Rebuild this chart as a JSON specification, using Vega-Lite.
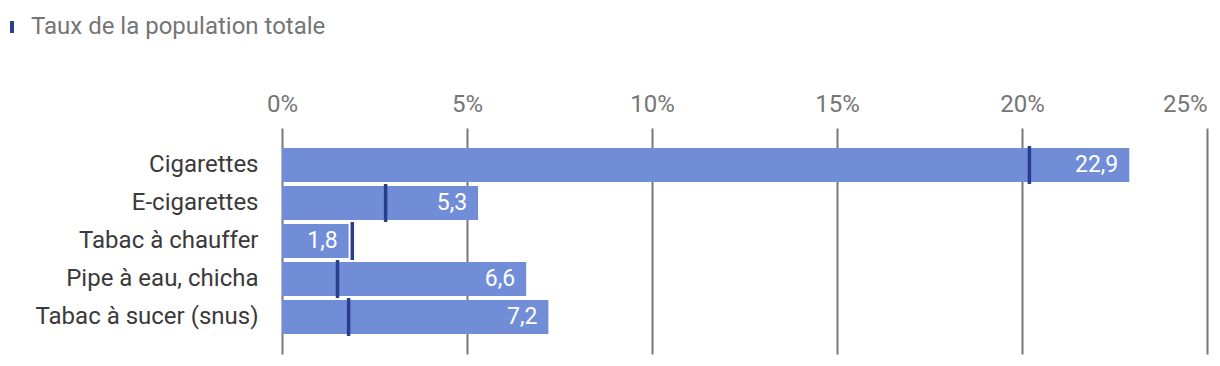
{
  "$schema": "https://vega.github.io/schema/vega-lite/v6.json",
  "autosize": {"type": "none"},
  "padding": {"left": 282, "top": 128, "right": 13, "bottom": 12},
  "width": 925,
  "height": 226,
  "background": "white",
  "config": {
    "font": "Roboto",
    "view": {"stroke": null},
    "locale": {"number": {"decimal": ",", "thousands": " ", "grouping": [3], "currency": ["", " €"]}}
  },
  "data": {
    "values": [
      {"produit": "Cigarettes", "taux": 22.9, "repere": 20.2},
      {"produit": "E-cigarettes", "taux": 5.3, "repere": 2.8},
      {"produit": "Tabac à chauffer", "taux": 1.8, "repere": 1.9},
      {"produit": "Pipe à eau, chicha", "taux": 6.6, "repere": 1.5},
      {"produit": "Tabac à sucer (snus)", "taux": 7.2, "repere": 1.8}
    ]
  },
  "encoding": {
    "y": {
      "field": "produit",
      "type": "nominal",
      "sort": null,
      "scale": {"paddingInner": 0.105, "paddingOuter": 0.526},
      "axis": {
        "title": null,
        "ticks": false,
        "domain": false,
        "labelFontSize": 24,
        "labelColor": "#3a3a3a",
        "labelPadding": 24,
        "labelLimit": 400
      }
    }
  },
  "layer": [
    {
      "mark": {"type": "bar", "color": "#728dd7"},
      "encoding": {
        "x": {
          "field": "taux",
          "type": "quantitative",
          "scale": {"domain": [0, 25], "nice": false},
          "axis": {
            "orient": "top",
            "title": null,
            "values": [0, 5, 10, 15, 20, 25],
            "labelExpr": "datum.value + '%'",
            "labelFontSize": 24,
            "labelColor": "#757575",
            "labelPadding": 12,
            "labelFlush": false,
            "labelAlign": {"condition": {"test": "datum.value == 25", "value": "right"}, "value": "center"},
            "ticks": false,
            "domain": false,
            "grid": true,
            "gridColor": "#777777",
            "gridWidth": 2,
            "zindex": 0
          }
        }
      }
    },
    {
      "mark": {"type": "text", "align": "right", "dx": -11, "fontSize": 23, "color": "white", "baseline": "middle"},
      "encoding": {
        "x": {"field": "taux", "type": "quantitative"},
        "text": {"field": "taux", "type": "quantitative", "format": ".1f"}
      }
    },
    {
      "mark": {"type": "tick", "thickness": 3.5, "size": 38, "orient": "vertical", "opacity": 1},
      "encoding": {
        "x": {"field": "repere", "type": "quantitative"},
        "color": {
          "datum": "Taux de la population totale",
          "type": "nominal",
          "scale": {"range": ["#2a3e8e"]},
          "legend": {
            "title": null,
            "orient": "none",
            "legendX": -282,
            "legendY": -113,
            "padding": 0,
            "labelFontSize": 24,
            "labelColor": "#757575",
            "labelOffset": 7,
            "labelLimit": 600,
            "symbolType": "M-0.33,-1H0.33V1H-0.33Z",
            "symbolSize": 144,
            "symbolOpacity": 1,
            "symbolStrokeWidth": 0
          }
        }
      }
    }
  ]
}
